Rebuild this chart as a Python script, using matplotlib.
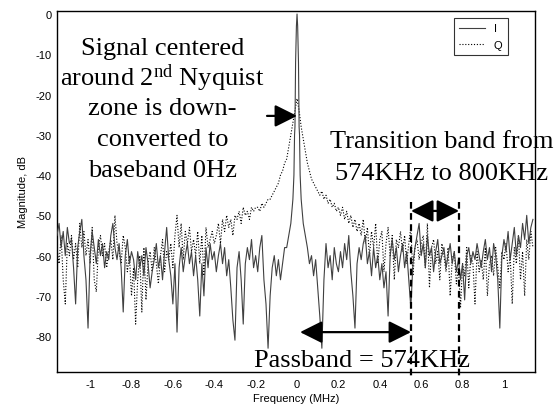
import numpy as np
import matplotlib
matplotlib.use("Agg")
import matplotlib.pyplot as plt

plt.rcParams['font.family'] = ['Liberation Sans', 'DejaVu Sans']
plt.rcParams['mathtext.fontset'] = 'custom'
plt.rcParams['mathtext.rm'] = 'Liberation Serif'
plt.rcParams['mathtext.it'] = 'Liberation Serif:italic'

# ---------------- data ----------------
freq_start_idx, freq_stop_idx, freq_step = -116, 115, 0.01   # frequency grid, MHz

mag_I = [
    -55, -52, -58, -54, -60, -53, -57,
    -56, -63, -72, -58, -54, -51, -60, -66, -78, -60,
    -54, -58, -62, -56, -60, -57, -63, -59, -61, -55,
    -52, -58, -61, -57, -63, -74, -60, -56, -62, -59,
    -61, -66, -59, -63, -60, -65, -58, -62, -68, -64,
    -61, -57, -63, -60, -66, -59, -53, -61, -65, -72,
    -62, -79, -63, -58, -64, -60, -57, -62, -59, -65,
    -60, -66, -75, -62, -70, -58, -63, -57, -61, -59,
    -64, -60, -57, -62, -58, -65, -61, -68, -76, -81,
    -63, -59, -66, -77, -62, -58, -61, -56, -63, -60,
    -64, -58, -55, -66, -72, -83, -70, -63, -60, -65,
    -61, -66, -62, -58, -58, -55, -52, -46, -28, 0,
    -28, -46, -52, -55, -58, -62, -60, -65, -61, -68,
    -75, -83, -66, -57, -63, -60, -66, -58, -62, -64,
    -59, -63, -57, -61, -55, -64, -70, -78, -62, -58,
    -61, -57, -55, -62, -59, -65, -58, -63, -60, -66,
    -62, -68, -64, -75, -60, -56, -61, -58, -64, -60,
    -57, -63, -59, -66, -73, -62, -58, -55, -52, -60,
    -57, -63, -55, -60, -58, -64, -59, -56, -62, -60,
    -58, -63, -60, -57, -62, -59, -64, -61, -66, -62,
    -71, -60, -58, -62, -59, -61, -57, -60, -63, -59,
    -56, -61, -58, -64, -57, -60, -66, -78, -60, -56,
    -59, -54, -61, -57, -53, -60, -55, -58, -52, -56,
    -50, -57, -53, -51,
]

# extra points describing the narrow I spike at 0 Hz
peak_freq_I = [-0.015, -0.012, -0.007, -0.003, 0.003, 0.007, 0.012, 0.015]
peak_mag_I = [-40, -30, -12, -3, -3, -12, -30, -40]

mag_Q = [
    -58, -62, -55, -66, -72, -57, -60,
    -55, -61, -57, -63, -52, -58, -54, -60, -56, -62,
    -53, -66, -69, -58, -55, -60, -57, -63, -59, -56,
    -61, -50, -57, -59, -62, -55, -58, -64, -60, -70,
    -63, -77, -66, -60, -74, -58, -71, -62, -59, -64,
    -58, -62, -67, -60, -56, -64, -59, -61, -57, -63,
    -55, -50, -58, -52, -61, -54, -57, -53, -59, -56,
    -60, -54, -62, -55, -65, -53, -58, -56, -54, -57,
    -55, -52, -57, -51, -54, -50, -53, -51, -55, -50,
    -51, -49, -52, -48, -50, -49, -51, -48, -49, -48,
    -48, -49, -47, -48, -47, -46, -46, -45, -44, -43,
    -42, -40, -39, -37, -36, -33, -30, -27, -24, -21,
    -24, -28, -31, -34, -37, -39, -41, -42, -43, -44,
    -45, -44, -46, -45, -47, -46, -48, -47, -49, -48,
    -50, -48, -51, -49, -52, -50, -53, -51, -54, -52,
    -55, -51, -57, -53, -60, -54, -58, -52, -62, -56,
    -54, -64, -57, -53, -60, -55, -66, -56, -58, -54,
    -59, -55, -62, -57, -53, -65, -58, -56, -61, -57,
    -55, -63, -52, -68, -58, -56, -62, -59, -66, -57,
    -60, -64, -58, -70, -61, -59, -67, -63, -73, -62,
    -65, -58, -68, -60, -62, -72, -59, -64, -61, -66,
    -58, -70, -62, -60, -65, -58, -63, -68, -59, -61,
    -57, -64, -60, -72, -58, -62, -55, -66, -59, -70,
    -56, -61, -54, -58,
]

series_labels = ['I', 'Q']
xticks = [-1, -0.8, -0.6, -0.4, -0.2, 0, 0.2, 0.4, 0.6, 0.8, 1]
xtick_labels = ['-1', '-0.8', '-0.6', '-0.4', '-0.2', '0', '0.2', '0.4', '0.6', '0.8', '1']
yticks = [0, -10, -20, -30, -40, -50, -60, -70, -80]
ytick_labels = ['0', '-10', '-20', '-30', '-40', '-50', '-60', '-70', '-80']

band_edges = [0.551, 0.783]   # hand-drawn dashed marker positions (MHz)

# ---------------- build ----------------
freq = np.round(np.arange(freq_start_idx, freq_stop_idx) * freq_step, 3)
fI = np.concatenate([freq, peak_freq_I])
mI = np.concatenate([np.array(mag_I, float), peak_mag_I])
order = np.argsort(fI, kind='stable')
fI, mI = fI[order], mI[order]

fig = plt.figure(figsize=(5.58, 4.10), dpi=100)
fig.patch.set_facecolor('white')
ax = fig.add_axes([57/558, 1-373/410, (535-57)/558, (373-12)/410])

ax.plot(fI, mI, color='#404040', lw=0.8, label=series_labels[0], zorder=3)
ax.plot(freq, mag_Q, color='black', lw=0.8, linestyle=(0, (1, 1.6)),
        label=series_labels[1], zorder=2)

ax.set_xlim(-1.16, 1.15)
ax.set_ylim(-88.9, 0.75)
ax.set_xticks(xticks, labels=xtick_labels)
ax.set_yticks(yticks, labels=ytick_labels)
ax.tick_params(axis='both', length=0, labelsize=8)
ax.tick_params(axis='x', pad=5)
ax.tick_params(axis='y', pad=4)
for s in ax.spines.values():
    s.set_linewidth(1.0)
ax.set_xlabel('Frequency (MHz)', fontsize=8, labelpad=3)
ax.set_ylabel('Magnitude, dB', fontsize=8, labelpad=5)

leg = ax.legend(loc='upper right', bbox_to_anchor=(0.9435, 0.981), fontsize=8,
                frameon=True, fancybox=False, edgecolor='black',
                handlelength=2.3, handletextpad=0.8, borderpad=0.5,
                labelspacing=0.55, borderaxespad=0)
leg.get_frame().set_linewidth(0.8)

serif = ['Liberation Serif', 'DejaVu Serif']
fs = 19

# peak annotation
lines_peak = ['Signal centered', r'around 2$^{\rm nd}$ Nyquist', 'zone is down-',
              'converted to', 'baseband 0Hz']
ys_peak = [-9.9, -17.6, -24.8, -32.5, -40.2]
for t, y in zip(lines_peak, ys_peak):
    ax.text(-0.65, y, t, ha='center', va='baseline', fontsize=fs, family=serif,
            zorder=6)

lines_tr = ['Transition band from', '574KHz to 800KHz']
ys_tr = [-33.1, -41.0]
for t, y in zip(lines_tr, ys_tr):
    ax.text(0.698, y, t, ha='center', va='baseline', fontsize=fs, family=serif,
            clip_on=False, zorder=6)

ax.text(0.312, -87.4, 'Passband = 574KHz', ha='center', va='baseline',
        fontsize=fs, family=serif, zorder=6)

# arrows
single = dict(arrowstyle='-|>,head_length=0.68,head_width=0.34', color='black',
              lw=1.6, mutation_scale=20, shrinkA=0, shrinkB=0)
double = dict(arrowstyle='<|-|>,head_length=0.68,head_width=0.34', color='black',
              lw=1.6, mutation_scale=20, shrinkA=0, shrinkB=0)
ax.annotate('', xy=(0.0, -25.3), xytext=(-0.145, -25.3), arrowprops=single, zorder=7)
ax.annotate('', xy=(band_edges[0], -48.9), xytext=(band_edges[1], -48.9),
            arrowprops=double, zorder=7)
ax.annotate('', xy=(0.0145, -79.0), xytext=(band_edges[0], -79.0),
            arrowprops=double, zorder=7)

for xe in band_edges:
    ax.plot([xe, xe], [-46.7, -90.2], color='black', lw=1.6,
            linestyle=(0, (3, 2)), clip_on=False, zorder=7)

fig.savefig('out.png', dpi=100, facecolor='white')
